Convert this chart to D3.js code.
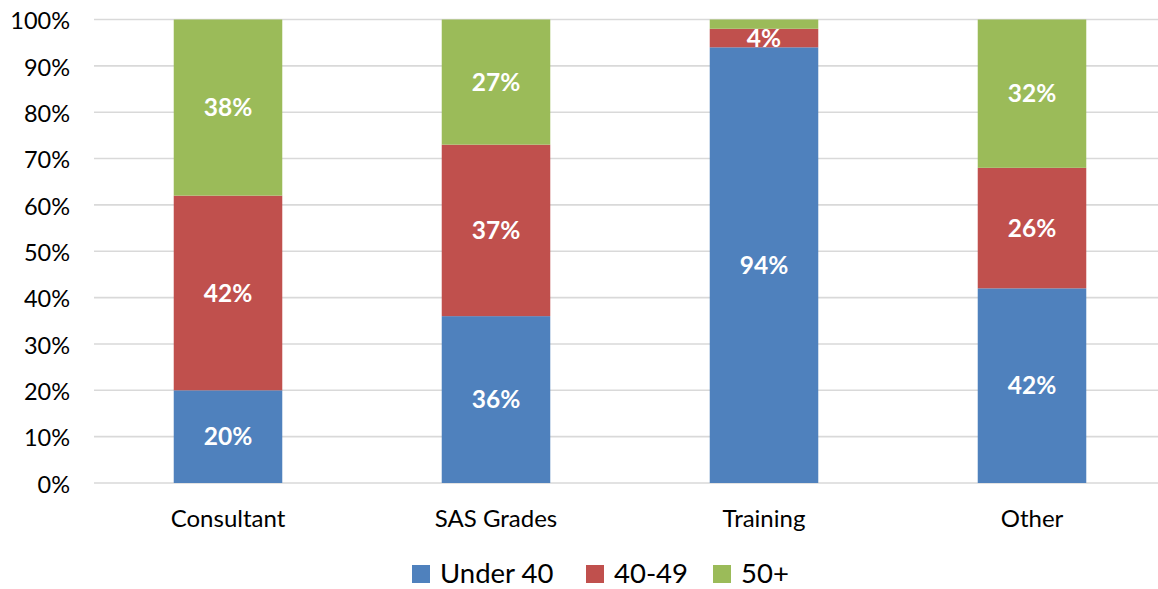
<!DOCTYPE html>
<html>
<head>
<meta charset="utf-8">
<script src="https://cdn.jsdelivr.net/npm/d3@7"></script>
<style>
  html, body { margin: 0; padding: 0; background: #fff; overflow: hidden; }
  svg { display: block; font-family: Lato, "Open Sans", sans-serif; }
</style>
</head>
<body>
<svg id="chart" width="1158" height="589"></svg>
<script>
// Age distribution by grade (percent of staff)
const categories = ["Consultant", "SAS Grades", "Training", "Other"];
const seriesNames = ["Under 40", "40-49", "50+"];
const under40 = [20, 36, 94, 42];
const age40to49 = [42, 37, 4, 26];
const age50plus = [38, 27, 2, 32];
const yTicks = [0, 10, 20, 30, 40, 50, 60, 70, 80, 90, 100];
const colors = ["#4f81bd", "#c0504d", "#9bbb59"];

const svg = d3.select("#chart");
const W = 1158;
const plotLeft = 94, plotRight = 1166, plotTop = 19.5, plotBottom = 483;

const rows = categories.map((c, i) => ({
  category: c,
  "Under 40": under40[i],
  "40-49": age40to49[i],
  "50+": age50plus[i]
}));

const x = d3.scaleBand()
  .domain(categories)
  .range([plotLeft, plotRight])
  .paddingInner(0.595)
  .paddingOuter(0.2975);

const y = d3.scaleLinear()
  .domain([0, 100])
  .range([plotBottom, plotTop]);

// gridlines
svg.append("g")
  .selectAll("line")
  .data(yTicks)
  .join("line")
  .attr("x1", plotLeft)
  .attr("x2", W)
  .attr("y1", d => y(d))
  .attr("y2", d => y(d))
  .attr("stroke", "#d9d9d9")
  .attr("stroke-width", 1.6);

// y axis labels
const yAxis = d3.axisLeft(y).tickValues(yTicks).tickFormat(d => d + "%").tickSize(0).tickPadding(0);
const gy = svg.append("g")
  .attr("transform", "translate(70,1)")
  .call(yAxis);
gy.select(".domain").remove();
gy.selectAll("text")
  .attr("font-family", "Lato, 'Open Sans', sans-serif")
  .attr("font-size", 23.5)
  .attr("fill", "#000")
  .attr("dy", "0.35em");

// stacked bars
const stack = d3.stack().keys(seriesNames);
const layers = stack(rows);

const layerG = svg.append("g")
  .selectAll("g")
  .data(layers)
  .join("g")
  .attr("fill", (d, i) => colors[i]);

layerG.selectAll("rect")
  .data(d => d)
  .join("rect")
  .attr("x", d => x(d.data.category))
  .attr("width", x.bandwidth())
  .attr("y", d => y(d[1]))
  .attr("height", d => y(d[0]) - y(d[1]));

// value labels (segments too thin to hold text are left unlabelled)
layerG.selectAll("text")
  .data(d => d.filter(p => p[1] - p[0] >= 3))
  .join("text")
  .attr("x", d => x(d.data.category) + x.bandwidth() / 2)
  .attr("y", d => y((d[0] + d[1]) / 2))
  .attr("dy", "0.35em")
  .attr("text-anchor", "middle")
  .attr("fill", "#fff")
  .attr("font-weight", "bold")
  .attr("font-size", 24.5)
  .text(d => Math.round(d[1] - d[0]) + "%");

// category axis labels
const xAxis = d3.axisBottom(x).tickSize(0).tickPadding(0);
const gx = svg.append("g")
  .attr("transform", `translate(0,${plotBottom})`)
  .call(xAxis);
gx.select(".domain").remove();
gx.selectAll("text")
  .attr("font-family", "Lato, 'Open Sans', sans-serif")
  .attr("font-size", 24)
  .attr("fill", "#000")
  .attr("y", 44)
  .attr("dy", 0);

// legend
const legend = svg.append("g");
const legendItems = [
  { name: seriesNames[0], x: 412 },
  { name: seriesNames[1], x: 586 },
  { name: seriesNames[2], x: 713 }
];
legendItems.forEach((item, i) => {
  legend.append("rect")
    .attr("x", item.x)
    .attr("y", 565)
    .attr("width", 18)
    .attr("height", 18)
    .attr("fill", colors[i]);
  legend.append("text")
    .attr("x", item.x + 28)
    .attr("y", 583)
    .attr("font-size", 27.5)
    .attr("fill", "#000")
    .text(item.name);
});
</script>
</body>
</html>
